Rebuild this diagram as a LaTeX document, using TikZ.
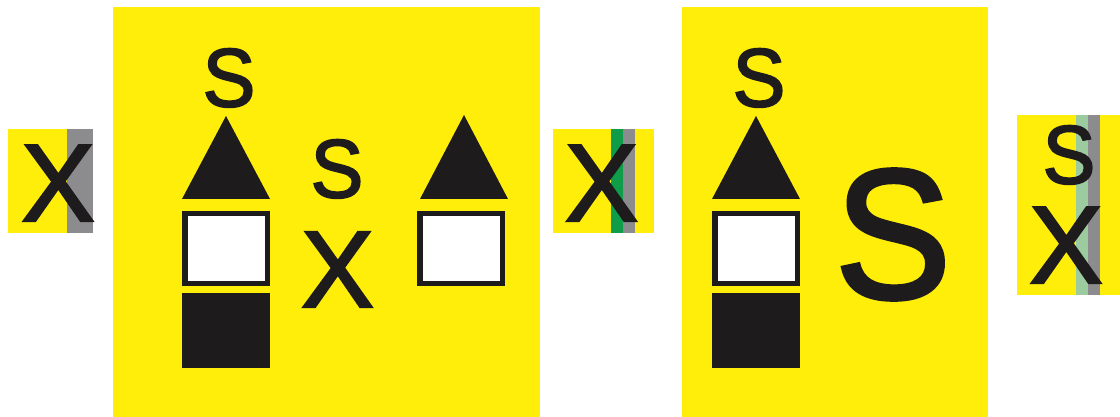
\documentclass[tikz,border=0pt]{standalone}
\usepackage{graphicx}
\usepackage{fontspec}
\setmainfont{Liberation Sans}
\newfontfamily\heavyfont[FakeBold=2.2]{Liberation Sans}
\definecolor{signyellow}{HTML}{FFED0A}
\definecolor{signblack}{HTML}{1D1B1C}
\definecolor{signgray}{HTML}{8C8C8F}
\definecolor{signgreen}{HTML}{0F9D49}
\definecolor{palegreen}{HTML}{9CCBA0}
\newcommand{\glyphsize}[1]{\heavyfont\fontsize{#1}{#1}\selectfont}
\newcommand{\tallS}{\scalebox{1}[1.05]{S}}
\tikzset{
  panel/.style={fill=signyellow,draw=none},
  letter/.style={anchor=base,inner sep=0pt,outer sep=0pt,text=signblack},
  solidshape/.style={fill=signblack,draw=none},
  framebox/.style={fill=white,draw=signblack,line width=5.5pt},
}
\begin{document}
\begin{tikzpicture}[x=1pt,y=-1pt]
\useasboundingbox (0,0) rectangle (1120,417);
\fill[white] (0,0) rectangle (1120,417);
% panels
\fill[panel] (8,129) rectangle (93,233);
\fill[signgray] (67,129) rectangle (93,233);
\fill[panel] (113,7) rectangle (540,417);
\fill[panel] (553,129) rectangle (654,233);
\fill[signgreen] (611,129) rectangle (623,233);
\fill[signgray] (623,129) rectangle (635,233);
\fill[panel] (682,7) rectangle (988,417);
\fill[panel] (1017,115) rectangle (1120,295);
\fill[palegreen] (1076,115) rectangle (1088,295);
\fill[signgray] (1088,115) rectangle (1100,295);
% left sign
\node[letter,font=\glyphsize{110}] (x1) at (58,221) {X};
\node[letter,font=\glyphsize{79}] (s1) at (229,106.5) {\tallS};
\fill[solidshape] (226,116) -- (270,199) -- (182,199) -- cycle;
\draw[framebox] (184.75,213.75) rectangle (267.25,283.25);
\fill[solidshape] (182,293) rectangle (270,368);
\node[letter,font=\glyphsize{79}] (s2) at (337,197.5) {\tallS};
\node[letter,font=\glyphsize{109}] (x2) at (337.5,307) {X};
\fill[solidshape] (464,115) -- (508,199) -- (420,199) -- cycle;
\draw[framebox] (419.75,213.75) rectangle (502.25,283.25);
% middle small
\node[letter,font=\glyphsize{110}] (x3) at (601.5,221) {X};
% right sign
\node[letter,font=\glyphsize{79}] (s3) at (759,106.5) {\tallS};
\fill[solidshape] (756,116) -- (800,199) -- (712,199) -- cycle;
\draw[framebox] (714.75,213.75) rectangle (797.25,283.25);
\fill[solidshape] (712,293) rectangle (800,368);
\node[letter,font=\glyphsize{174}] (s4) at (893,298) {\scalebox{1}[1.06]{S}};
% far right
\node[letter,font=\glyphsize{79}] (s5) at (1069,183.5) {\tallS};
\node[letter,font=\glyphsize{110}] (x4) at (1066,283) {X};
\end{tikzpicture}
\end{document}
